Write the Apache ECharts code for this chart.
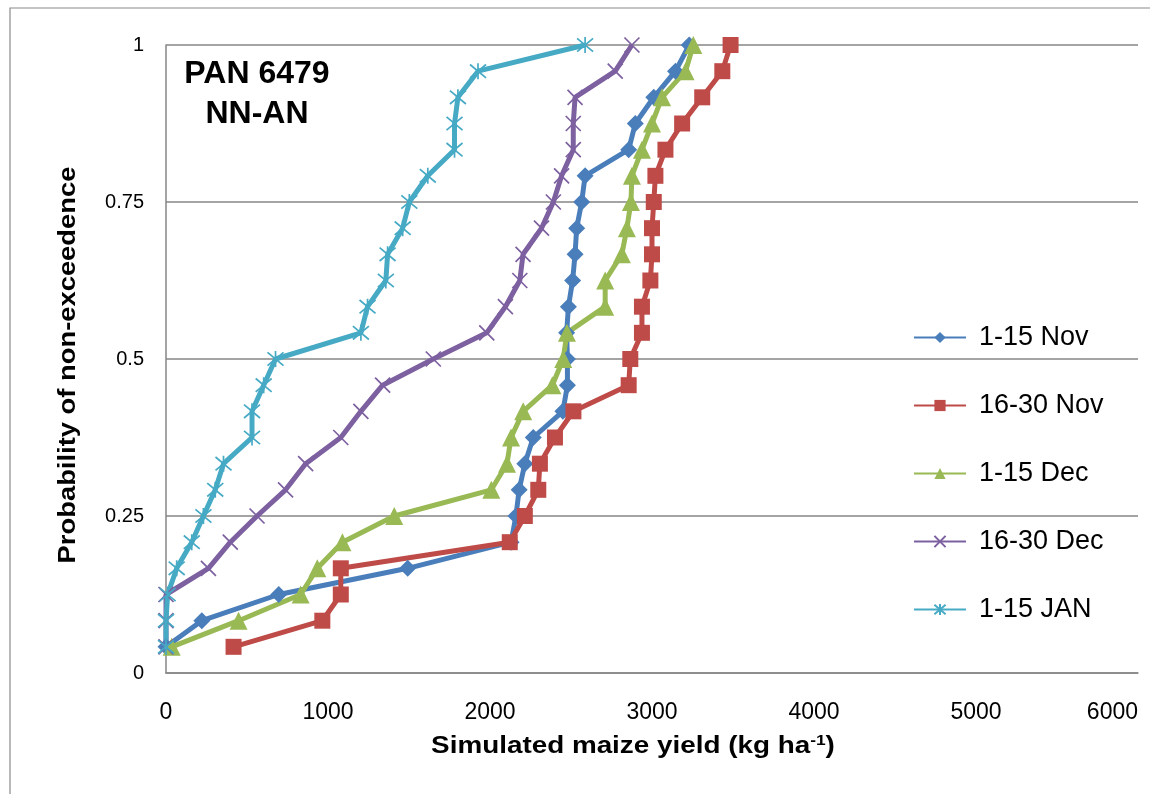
<!DOCTYPE html>
<html>
<head>
<meta charset="utf-8">
<script src="https://cdn.jsdelivr.net/npm/echarts@6/dist/echarts.min.js"></script>
<style>
html,body{margin:0;padding:0;background:#fff;}
#chart{width:1150px;height:794px;}
</style>
</head>
<body>
<div id="chart"></div>
<script>
// Probability of non-exceedence (plotting positions)
const probabilities = [0.0417, 0.0833, 0.125, 0.1667, 0.2083, 0.25, 0.2917, 0.3333, 0.375, 0.4167, 0.4583, 0.5,
  0.5417, 0.5833, 0.625, 0.6667, 0.7083, 0.75, 0.7917, 0.8333, 0.875, 0.9167, 0.9583, 1];

// Simulated maize yield (kg/ha) per planting window
const nov1_15  = [0, 221, 696, 1492, 2130, 2160, 2180, 2215, 2267, 2450, 2478, 2478, 2473, 2484, 2510, 2525, 2535, 2566, 2587, 2856, 2897, 3011, 3145, 3230];
const nov16_30 = [417, 965, 1079, 1079, 2122, 2215, 2298, 2308, 2401, 2515, 2856, 2866, 2938, 2938, 2990, 3000, 3000, 3011, 3021, 3083, 3186, 3310, 3434, 3485];
const dec1_15  = [35, 448, 831, 934, 1089, 1409, 2008, 2105, 2130, 2205, 2385, 2452, 2475, 2711, 2711, 2814, 2845, 2870, 2876, 2938, 3000, 3062, 3207, 3255];
const dec16_30 = [0, 0, 0, 262, 397, 562, 738, 862, 1079, 1203, 1337, 1650, 1980, 2095, 2184, 2204, 2318, 2391, 2442, 2514, 2514, 2525, 2773, 2876];
const jan1_15  = [0, 0, 10, 66, 159, 231, 304, 355, 531, 531, 603, 676, 1203, 1244, 1357, 1368, 1461, 1502, 1616, 1781, 1781, 1802, 1926, 2587];

const seriesNames = ['1-15 Nov', '16-30 Nov', '1-15 Dec', '16-30 Dec', '1-15 JAN'];
const xTicks = [0, 1000, 2000, 3000, 4000, 5000, 6000];
const yTicks = [0, 0.25, 0.5, 0.75, 1];

const colors = ['#4A7EBB', '#BE4B48', '#98B954', '#7D60A0', '#46AAC5'];
const symbols = ['diamond', 'rect', 'triangle',
  'path://M0,0L10,10M10,0L0,10',
  'path://M0,0L10,10M10,0L0,10M5,-1L5,11'];
const symbolSizes = [17, 16, 18, 15, 16];
const allData = [nov1_15, nov16_30, dec1_15, dec16_30, jan1_15];

const chart = echarts.init(document.getElementById('chart'));
const series = allData.map((vals, s) => ({
  name: seriesNames[s],
  type: 'line',
  data: vals.map((v, i) => [v, probabilities[i]]),
  symbol: symbols[s],
  symbolSize: symbolSizes[s],
  lineStyle: { color: colors[s], width: 5 },
  itemStyle: { color: colors[s], borderColor: colors[s], borderWidth: s >= 3 ? 1.7 : 0 },
  emphasis: { disabled: true }
}));

chart.setOption({
  animation: false,
  backgroundColor: '#fff',
  grid: { left: 166, right: 12, top: 45, bottom: 121, containLabel: false, outerBoundsMode: 'none' },
  xAxis: {
    type: 'value', min: 0, max: 6000, interval: 1000,
    axisLine: { show: true, lineStyle: { color: '#868686', width: 1.5 } },
    axisTick: { show: false },
    splitLine: { show: false },
    axisLabel: { color: '#000', fontFamily: 'Liberation Sans', fontSize: 23, margin: 28,
      alignMaxLabel: 'right',
      formatter: v => xTicks.includes(v) ? String(v) : '' }
  },
  yAxis: {
    type: 'value', min: 0, max: 1, interval: 0.25,
    axisLine: { show: true, lineStyle: { color: '#868686', width: 1.5 } },
    axisTick: { show: false },
    splitLine: { show: true, lineStyle: { color: '#868686', width: 1.5 } },
    axisLabel: { color: '#000', fontFamily: 'Liberation Sans', fontSize: 20, margin: 22,
      formatter: v => yTicks.includes(v) ? String(v) : '' }
  },
  legend: {
    orient: 'vertical',
    left: 908, top: 319,
    padding: 5,
    itemWidth: 52, itemHeight: 14,
    itemGap: 41,
    data: seriesNames,
    textStyle: { color: '#000', fontFamily: 'Liberation Sans', fontSize: 27, padding: [0, 0, 0, 8] }
  },
  graphic: [
    { type: 'rect', shape: { x: 10, y: 8, width: 1160, height: 800 }, style: { fill: 'none', stroke: '#8a8a8a', lineWidth: 1.2 }, silent: true, z: -1 },
    { type: 'text', x: 257, y: 74, style: { text: 'PAN 6479', font: 'bold 32px "Liberation Sans"', fill: '#000', textAlign: 'center', textVerticalAlign: 'middle' } },
    { type: 'text', x: 257, y: 114, style: { text: 'NN-AN', font: 'bold 32px "Liberation Sans"', fill: '#000', textAlign: 'center', textVerticalAlign: 'middle' } },
    { type: 'text', x: 633, y: 746, scaleX: 1.16, style: {
        text: '{a|Simulated maize yield (kg ha}{s|-1}{a|)}',
        textAlign: 'center', textVerticalAlign: 'middle',
        rich: {
          a: { font: 'bold 24px "Liberation Sans"', fill: '#000' },
          s: { font: 'bold 15px "Liberation Sans"', fill: '#000', verticalAlign: 'top', padding: [0, 0, 10, 0] }
        } } },
    { type: 'text', x: 68, y: 365, rotation: Math.PI / 2, scaleX: 1.14, style: {
        text: 'Probability of non-exceedence', font: 'bold 24px "Liberation Sans"', fill: '#000',
        textAlign: 'center', textVerticalAlign: 'middle' } }
  ],
  series: series
});
</script>
</body>
</html>
